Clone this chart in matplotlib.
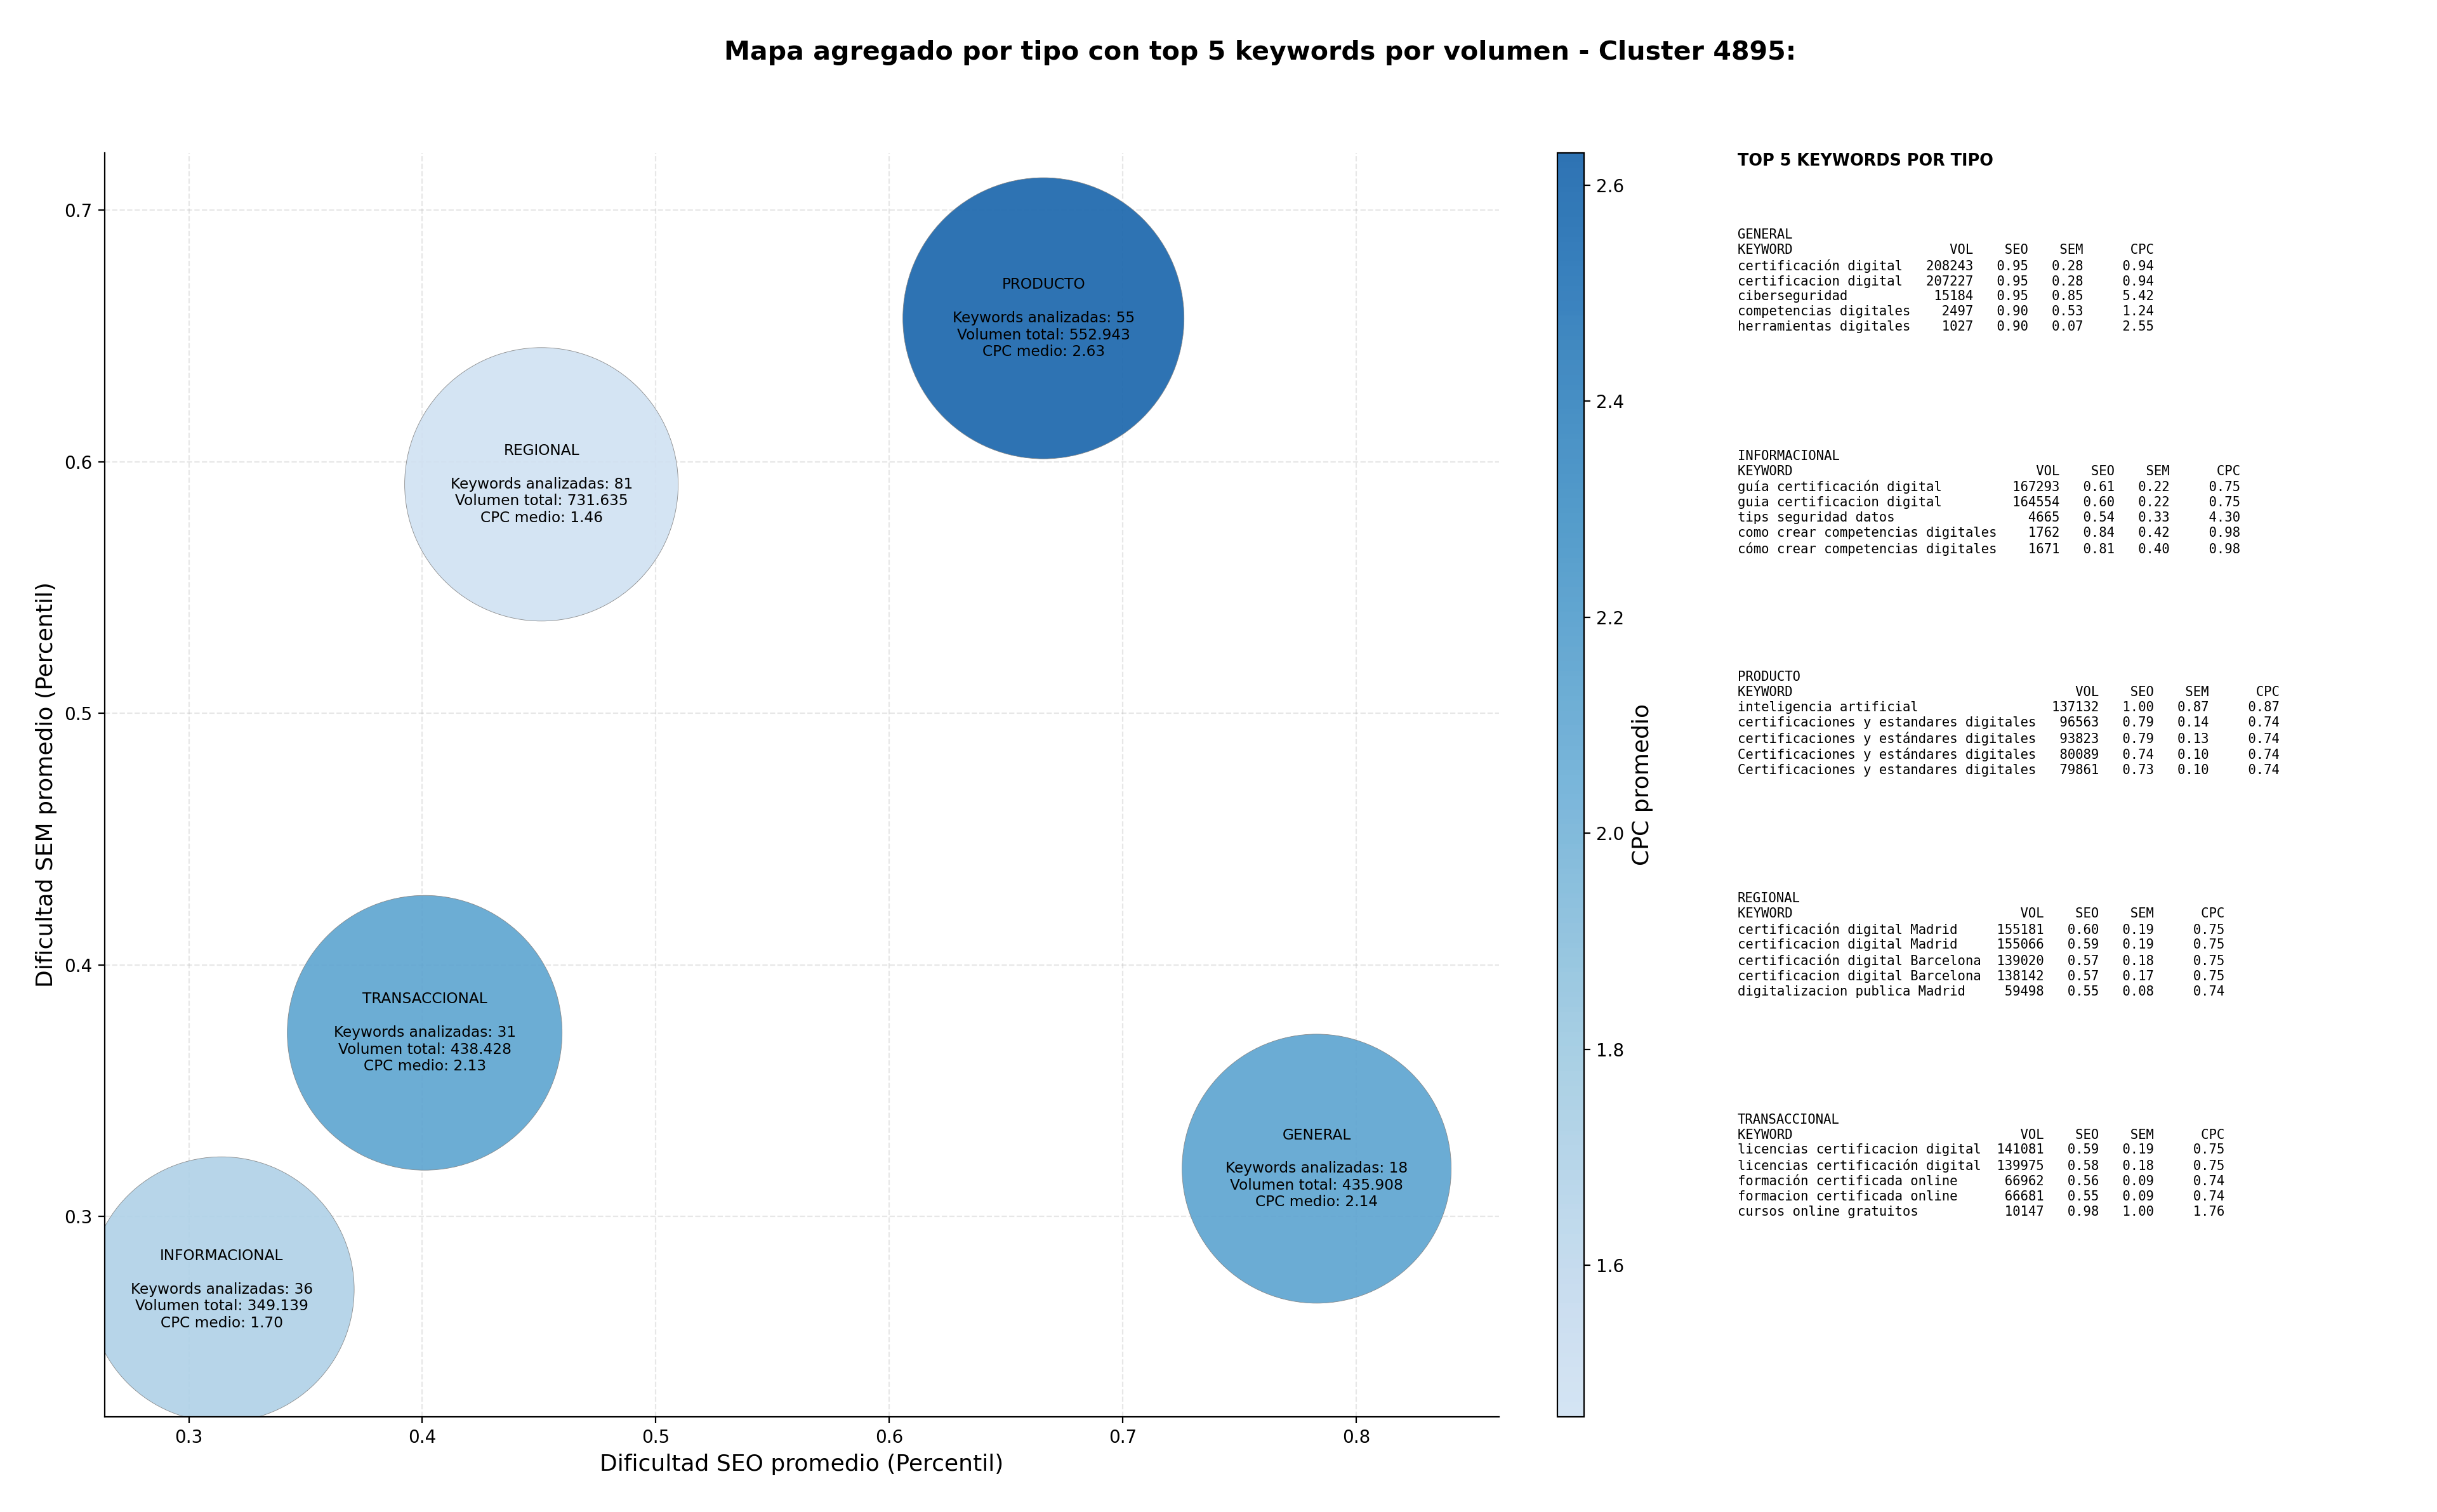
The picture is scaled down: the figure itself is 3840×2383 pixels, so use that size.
import numpy as np
import matplotlib
matplotlib.use('Agg')
import matplotlib.pyplot as plt
from matplotlib.colors import ListedColormap, Normalize

# Aggregated values per search type
tipos = ['GENERAL', 'INFORMACIONAL', 'PRODUCTO', 'REGIONAL', 'TRANSACCIONAL']
seo_medio = [0.783, 0.314, 0.666, 0.451, 0.401]
sem_medio = [0.319, 0.271, 0.657, 0.591, 0.373]
n_keywords = [18, 36, 55, 81, 31]
volumen_total = [435908, 349139, 552943, 731635, 438428]
cpc_medio = [2.14, 1.70, 2.63, 1.46, 2.13]

# Top 5 keywords per type: keyword, volume, seo, sem, cpc
top_general = [
    ('certificación digital', 208243, 0.95, 0.28, 0.94),
    ('certificacion digital', 207227, 0.95, 0.28, 0.94),
    ('ciberseguridad', 15184, 0.95, 0.85, 5.42),
    ('competencias digitales', 2497, 0.90, 0.53, 1.24),
    ('herramientas digitales', 1027, 0.90, 0.07, 2.55),
]
top_informacional = [
    ('guía certificación digital', 167293, 0.61, 0.22, 0.75),
    ('guia certificacion digital', 164554, 0.60, 0.22, 0.75),
    ('tips seguridad datos', 4665, 0.54, 0.33, 4.30),
    ('como crear competencias digitales', 1762, 0.84, 0.42, 0.98),
    ('cómo crear competencias digitales', 1671, 0.81, 0.40, 0.98),
]
top_producto = [
    ('inteligencia artificial', 137132, 1.00, 0.87, 0.87),
    ('certificaciones y estandares digitales', 96563, 0.79, 0.14, 0.74),
    ('certificaciones y estándares digitales', 93823, 0.79, 0.13, 0.74),
    ('Certificaciones y estándares digitales', 80089, 0.74, 0.10, 0.74),
    ('Certificaciones y estandares digitales', 79861, 0.73, 0.10, 0.74),
]
top_regional = [
    ('certificación digital Madrid', 155181, 0.60, 0.19, 0.75),
    ('certificacion digital Madrid', 155066, 0.59, 0.19, 0.75),
    ('certificación digital Barcelona', 139020, 0.57, 0.18, 0.75),
    ('certificacion digital Barcelona', 138142, 0.57, 0.17, 0.75),
    ('digitalizacion publica Madrid', 59498, 0.55, 0.08, 0.74),
]
top_transaccional = [
    ('licencias certificacion digital', 141081, 0.59, 0.19, 0.75),
    ('licencias certificación digital', 139975, 0.58, 0.18, 0.75),
    ('formación certificada online', 66962, 0.56, 0.09, 0.74),
    ('formacion certificada online', 66681, 0.55, 0.09, 0.74),
    ('cursos online gratuitos', 10147, 0.98, 1.00, 1.76),
]
top_por_tipo = [top_general, top_informacional, top_producto, top_regional, top_transaccional]

# Bubble diameters in pixels (style only)
bubble_px = [424, 418, 443, 431, 433]
dpi = 200
bubble_sizes = [(d * 72 / dpi) ** 2 for d in bubble_px]

cmap = ListedColormap(plt.cm.Blues(np.linspace(0.2, 0.8, 256)))
norm = Normalize(vmin=min(cpc_medio), vmax=max(cpc_medio))

fig = plt.figure(figsize=(3840 / dpi, 2383 / dpi), dpi=dpi)
ax = fig.add_axes([0.043, 0.063, 0.572, 0.836])
cax = fig.add_axes([0.639, 0.063, 0.011, 0.836])

sc = ax.scatter(seo_medio, sem_medio, s=bubble_sizes, c=cpc_medio, cmap=cmap, norm=norm,
                alpha=0.9, edgecolors='grey', linewidths=0.3, zorder=2)

for t, x, y, n, v, c in zip(tipos, seo_medio, sem_medio, n_keywords, volumen_total, cpc_medio):
    vol_txt = f'{v:,}'.replace(',', '.')
    ax.text(x, y, f'{t}\n\nKeywords analizadas: {n}\nVolumen total: {vol_txt}\nCPC medio: {c:.2f}',
            ha='center', va='center', fontsize=8.4, linespacing=1.19, zorder=3)

ax.set_xlim(0.264, 0.861)
ax.set_ylim(0.2204, 0.7228)
ax.grid(True, linestyle='--', alpha=0.3, zorder=0)
ax.set_axisbelow(True)
ax.spines['top'].set_visible(False)
ax.spines['right'].set_visible(False)
ax.set_xlabel('Dificultad SEO promedio (Percentil)', fontsize=13)
ax.set_ylabel('Dificultad SEM promedio (Percentil)', fontsize=13)

cb = fig.colorbar(sc, cax=cax)
cb.set_label('CPC promedio', fontsize=13)

fig.suptitle('Mapa agregado por tipo con top 5 keywords por volumen - Cluster 4895:',
             fontsize=14.8, fontweight='bold', x=0.517, y=0.965, va='center')

# Right panel with the top keywords tables
fig.text(0.713, 0.899, 'TOP 5 KEYWORDS POR TIPO', fontsize=9.2, fontweight='bold', va='top')
for i, (t, rows) in enumerate(zip(tipos, top_por_tipo)):
    w = max(len(r[0]) for r in rows)
    lines = [t, f"{'KEYWORD':<{w}}{'VOL':>8}{'SEO':>7}{'SEM':>7}{'CPC':>9}"]
    for kw, vol, seo, sem, cpc in rows:
        lines.append(f'{kw:<{w}}{vol:>8}{seo:>7.2f}{sem:>7.2f}{cpc:>9.2f}')
    y = 0.063 + 0.836 * (0.94 - i * 0.175)
    fig.text(0.713, y, '\n'.join(lines), fontsize=7.45, family='DejaVu Sans Mono',
             va='top', linespacing=1.24)

plt.savefig('out.png', dpi=dpi)
